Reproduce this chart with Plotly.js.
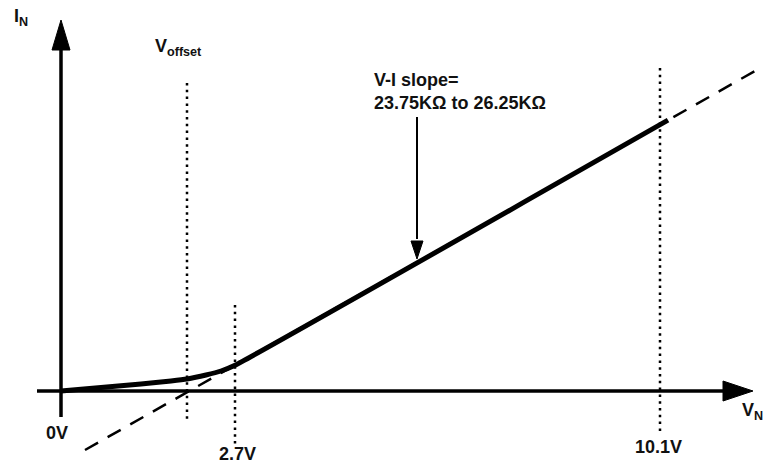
<!DOCTYPE html>
<html>
<head>
<meta charset="utf-8">
<script src="https://cdn.plot.ly/plotly-3.0.1.min.js"></script>
<style>html,body{margin:0;padding:0;background:#fff;}#chart{width:765px;height:465px;}</style>
</head>
<body>
<div id="chart"></div>
<script>
// Schematic V-I characteristic (diagram units; origin = 0V, 0A)
const curveX = [0, 4, 8, 11, 12.6, 14.5, 16, 17.4, 60.7];
const curveY = [0, 0.35, 0.7, 1.0, 1.2, 1.6, 2.0, 2.57, 27.08];

// Extrapolated linear region (dashed)
const dashX = [2.4, 69.4];
const dashY = [-5.9, 32.0];

// Reference voltage markers (dotted verticals)
const markerNames = ['Voffset', '2.7V', '10.1V'];
const markerX = [12.6, 17.4, 59.9];
const markerTop = [30.8, 8.6, 32.3];
const markerBottom = [-3.2, -5.6, -4.4];

// Tick labels
const tickLabels = ['0V', '2.7V', '10.1V'];
const tickX = [-0.4, 17.6, 59.7];
const tickY = [-4.2, -6.3, -5.6];

// Slope annotation
const slopeText = ['V-I slope=', '23.75KΩ to 26.25KΩ'];

const font = {family: 'Liberation Sans, Arial, Helvetica, sans-serif', size: 18, color: '#111', weight: 'bold'};

const dotX = [], dotY = [];
markerX.forEach((x, i) => { dotX.push(x, x, null); dotY.push(markerTop[i], markerBottom[i], null); });

const traces = [
  {x: dashX, y: dashY, mode: 'lines', line: {color: '#000', width: 2.5, dash: '15px,11px'}, hoverinfo: 'skip'},
  {x: dotX, y: dotY, mode: 'lines', line: {color: '#000', width: 2.5, dash: '2.5px,4.3px'}, hoverinfo: 'skip'},
  {x: curveX, y: curveY, mode: 'lines', line: {color: '#000', width: 5, shape: 'spline', smoothing: 0.4}, hoverinfo: 'skip'}
];

function tri(p1, p2, p3) {
  return {type: 'path', xref: 'x', yref: 'y', path: `M${p1[0]},${p1[1]} L${p2[0]},${p2[1]} L${p3[0]},${p3[1]} Z`,
          fillcolor: '#000', line: {color: '#000', width: 1}};
}
function seg(x0, y0, x1, y1, w) {
  return {type: 'line', xref: 'x', yref: 'y', x0, y0, x1, y1, line: {color: '#000', width: w}};
}

const shapes = [
  // y axis with arrow
  seg(0, -2.6, 0, 34.5, 3.5),
  tri([-0.9, 34.1], [0.9, 34.1], [0, 37.1]),
  // x axis with arrow
  seg(-2.4, 0, 66.6, 0, 3.5),
  tri([66.2, -1.0], [66.2, 1.0], [69.2, 0]),
  // slope pointer
  seg(35.6, 27.4, 35.6, 15.2, 2),
  tri([35.0, 15.0], [36.2, 15.0], [35.6, 13.2])
];

const annotations = [
  {x: -4.9, y: 37.4, text: 'I<sub>N</sub>', xanchor: 'left', yanchor: 'middle'},
  {x: 9.2, y: 34.4, text: 'V<sub>offset</sub>', xanchor: 'left', yanchor: 'middle'},
  {x: 67.9, y: -2.0, text: 'V<sub>N</sub>', xanchor: 'left', yanchor: 'middle'},
  {x: 31.1, y: 30.0, text: slopeText.join('<br>'), xanchor: 'left', yanchor: 'middle', align: 'left'}
].concat(tickLabels.map((t, i) => ({x: tickX[i], y: tickY[i], text: t, xanchor: 'center', yanchor: 'middle'})))
 .map(a => Object.assign({xref: 'x', yref: 'y', showarrow: false, font: font}, a));

const layout = {
  width: 765, height: 465,
  margin: {l: 0, r: 0, t: 0, b: 0, pad: 0},
  paper_bgcolor: '#fff', plot_bgcolor: '#fff',
  showlegend: false,
  xaxis: {range: [-6.1, 70.4], visible: false, fixedrange: true},
  yaxis: {range: [-7.4, 39.1], visible: false, fixedrange: true},
  shapes: shapes,
  annotations: annotations
};

Plotly.newPlot('chart', traces, layout, {staticPlot: true, displayModeBar: false});
</script>
</body>
</html>
